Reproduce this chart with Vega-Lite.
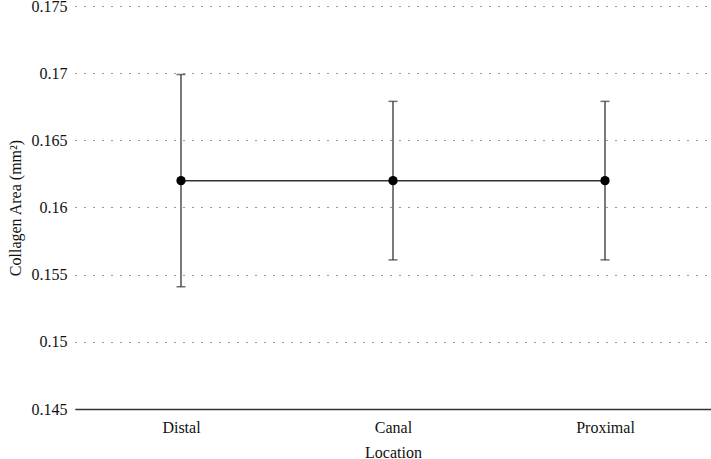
{
  "$schema": "https://vega.github.io/schema/vega-lite/v6.json",
  "width": 636,
  "height": 403,
  "autosize": {"type": "none"},
  "padding": {"left": 75, "top": 6, "right": 0, "bottom": 50},
  "background": "white",
  "config": {
    "view": {"stroke": null},
    "font": "Liberation Serif",
    "axis": {"labelFont": "Liberation Serif", "titleFont": "Liberation Serif", "labelFontSize": 16, "titleFontSize": 16, "labelColor": "#111", "titleColor": "#111", "titleFontWeight": "normal"}
  },
  "data": {
    "values": [
      {"location": "Distal", "mean": 0.162, "lower": 0.1541, "upper": 0.1699},
      {"location": "Canal", "mean": 0.162, "lower": 0.1561, "upper": 0.1679},
      {"location": "Proximal", "mean": 0.162, "lower": 0.1561, "upper": 0.1679}
    ]
  },
  "encoding": {
    "x": {
      "field": "location", "type": "nominal", "sort": ["Distal", "Canal", "Proximal"],
      "scale": {"type": "point", "padding": 0.5},
      "axis": {"title": "Location", "labelAngle": 0, "ticks": false, "domainColor": "#333", "domainWidth": 1.5, "labelPadding": 10, "titlePadding": 9, "grid": false}
    }
  },
  "layer": [
    {
      "mark": {"type": "rule", "color": "#333", "strokeWidth": 1.3},
      "encoding": {
        "y": {
          "field": "lower", "type": "quantitative",
          "scale": {"domain": [0.145, 0.175], "nice": false, "zero": false},
          "axis": {
            "title": "Collagen Area (mm²)",
            "values": [0.145, 0.15, 0.155, 0.16, 0.165, 0.17, 0.175],
            "format": ".3~f",
            "domain": false, "ticks": false, "labelPadding": 8, "titlePadding": 8,
            "grid": true, "gridDash": [1, 8], "gridColor": "#333", "gridWidth": 1.2
          }
        },
        "y2": {"field": "upper"}
      }
    },
    {
      "mark": {"type": "tick", "color": "#333", "orient": "horizontal", "size": 9, "thickness": 1.5},
      "encoding": {"y": {"field": "lower", "type": "quantitative"}}
    },
    {
      "mark": {"type": "tick", "color": "#333", "orient": "horizontal", "size": 9, "thickness": 1.5},
      "encoding": {"y": {"field": "upper", "type": "quantitative"}}
    },
    {
      "mark": {"type": "line", "color": "#333", "strokeWidth": 1.5},
      "encoding": {"y": {"field": "mean", "type": "quantitative"}}
    },
    {
      "mark": {"type": "point", "filled": true, "color": "black", "size": 85, "opacity": 1},
      "encoding": {"y": {"field": "mean", "type": "quantitative"}}
    }
  ]
}
